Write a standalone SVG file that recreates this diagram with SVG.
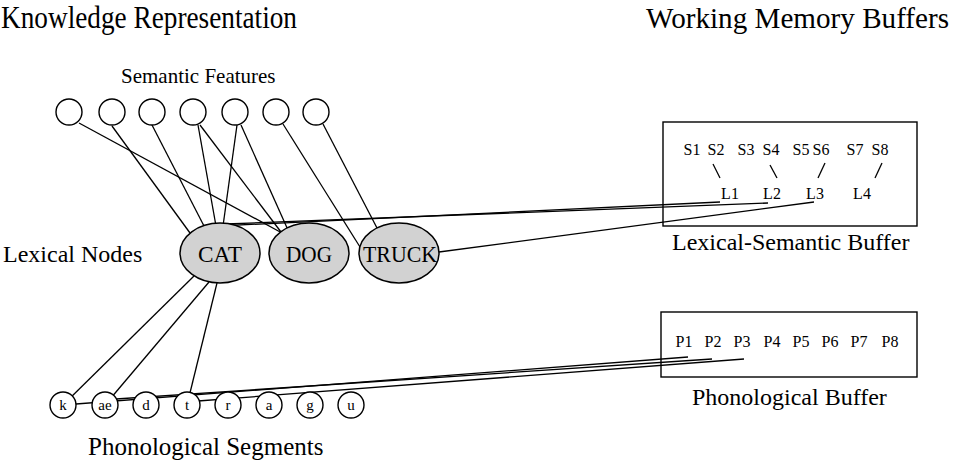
<svg xmlns="http://www.w3.org/2000/svg" width="957" height="464" viewBox="0 0 957 464">
<style>
text{font-family:"Liberation Serif","Times New Roman",serif;fill:#000}
.title{font-size:31px}
.lbl{font-size:24px}
.lex{font-size:24px;text-anchor:middle}
.sm{font-size:16px;text-anchor:middle}
.ph{font-size:15px;text-anchor:middle}
.c{stroke:#000;stroke-width:1.3;fill:none}
.feat{fill:#fff;stroke:#000;stroke-width:1.4}
.node{fill:#d2d2d2;stroke:#000;stroke-width:1.5}
.box{fill:none;stroke:#000;stroke-width:1.4}
</style>
<rect width="957" height="464" fill="#fff"/>
<text class="title" x="1" y="28" textLength="296" lengthAdjust="spacingAndGlyphs">Knowledge Representation</text>
<text class="title" x="646" y="28" style="font-size:29.5px" textLength="303" lengthAdjust="spacingAndGlyphs">Working Memory Buffers</text>
<text class="lbl" x="121" y="83" style="font-size:21px">Semantic Features</text>
<text class="lbl" x="3" y="262">Lexical Nodes</text>
<text class="lbl" x="88" y="455" style="font-size:25px">Phonological Segments</text>
<g id="connectors">
<line class="c" x1="79" y1="123" x2="282" y2="233"/>
<line class="c" x1="112" y1="126" x2="190" y2="233"/>
<line class="c" x1="152" y1="125" x2="204" y2="226"/>
<line class="c" x1="198" y1="125" x2="216" y2="226"/>
<line class="c" x1="200" y1="125" x2="281" y2="232"/>
<line class="c" x1="237" y1="125" x2="223" y2="226"/>
<line class="c" x1="241" y1="125" x2="288" y2="230"/>
<line class="c" x1="283" y1="124" x2="360" y2="247"/>
<line class="c" x1="323" y1="124" x2="377" y2="228"/>
<line class="c" x1="218" y1="226" x2="720" y2="202"/>
<line class="c" x1="226" y1="224" x2="768" y2="203"/>
<line class="c" x1="439" y1="252" x2="814" y2="202"/>
<line class="c" x1="194" y1="276" x2="63" y2="405"/>
<line class="c" x1="209" y1="282" x2="105" y2="405"/>
<line class="c" x1="217" y1="283" x2="187" y2="405"/>
<line class="c" x1="63" y1="405" x2="688" y2="357"/>
<line class="c" x1="116" y1="399" x2="712" y2="359"/>
<line class="c" x1="198" y1="401" x2="744" y2="359"/>
<line class="c" x1="713" y1="164" x2="720" y2="178"/>
<line class="c" x1="770" y1="165" x2="777" y2="178"/>
<line class="c" x1="825" y1="163" x2="818" y2="178"/>
<line class="c" x1="882" y1="163" x2="875" y2="178"/>
</g>
<g id="semantic-features">
<circle class="feat" cx="69" cy="112" r="13"/>
<circle class="feat" cx="112" cy="112" r="13"/>
<circle class="feat" cx="152" cy="112" r="13"/>
<circle class="feat" cx="193" cy="112" r="13"/>
<circle class="feat" cx="235" cy="112" r="13"/>
<circle class="feat" cx="276" cy="112" r="13"/>
<circle class="feat" cx="316" cy="112" r="13"/>
</g>
<g id="cat"><ellipse class="node" cx="220" cy="253" rx="40" ry="30"/><text class="lex" x="220" y="262" textLength="44" lengthAdjust="spacingAndGlyphs">CAT</text></g>
<g id="dog"><ellipse class="node" cx="309" cy="253" rx="40" ry="30"/><text class="lex" x="309" y="262" textLength="46" lengthAdjust="spacingAndGlyphs">DOG</text></g>
<g id="truck"><ellipse class="node" cx="399" cy="253" rx="40" ry="30"/><text class="lex" x="400" y="262" textLength="74" lengthAdjust="spacingAndGlyphs">TRUCK</text></g>
<g id="phonological-segments">
<circle class="feat" cx="63" cy="405" r="13"/><text class="ph" x="63" y="410">k</text>
<circle class="feat" cx="105" cy="405" r="13"/><text class="ph" x="105" y="410">ae</text>
<circle class="feat" cx="146" cy="405" r="13"/><text class="ph" x="146" y="410">d</text>
<circle class="feat" cx="187" cy="405" r="13"/><text class="ph" x="187" y="410">t</text>
<circle class="feat" cx="228" cy="405" r="13"/><text class="ph" x="228" y="410">r</text>
<circle class="feat" cx="269" cy="405" r="13"/><text class="ph" x="269" y="410">a</text>
<circle class="feat" cx="310" cy="405" r="13"/><text class="ph" x="310" y="410">g</text>
<circle class="feat" cx="351" cy="405" r="13"/><text class="ph" x="351" y="410">u</text>
</g>
<g id="lexical-semantic-buffer">
<rect class="box" x="663" y="122" width="254" height="104"/>
<text class="sm" x="692" y="155">S1</text><text class="sm" x="716" y="155">S2</text>
<text class="sm" x="746" y="155">S3</text><text class="sm" x="771" y="155">S4</text>
<text class="sm" x="801" y="155">S5</text><text class="sm" x="821" y="155">S6</text>
<text class="sm" x="855" y="155">S7</text><text class="sm" x="880" y="155">S8</text>
<text class="sm" x="730" y="199">L1</text><text class="sm" x="772" y="199">L2</text>
<text class="sm" x="815" y="199">L3</text><text class="sm" x="862" y="199">L4</text>
<text class="lbl" x="672" y="250">Lexical-Semantic Buffer</text>
</g>
<g id="phonological-buffer">
<rect class="box" x="661" y="312" width="256" height="65"/>
<text class="sm" x="684" y="347">P1</text><text class="sm" x="713" y="347">P2</text>
<text class="sm" x="742" y="347">P3</text><text class="sm" x="772" y="347">P4</text>
<text class="sm" x="801" y="347">P5</text><text class="sm" x="830" y="347">P6</text>
<text class="sm" x="859" y="347">P7</text><text class="sm" x="890" y="347">P8</text>
<text class="lbl" x="692" y="405">Phonological Buffer</text>
</g>
</svg>
